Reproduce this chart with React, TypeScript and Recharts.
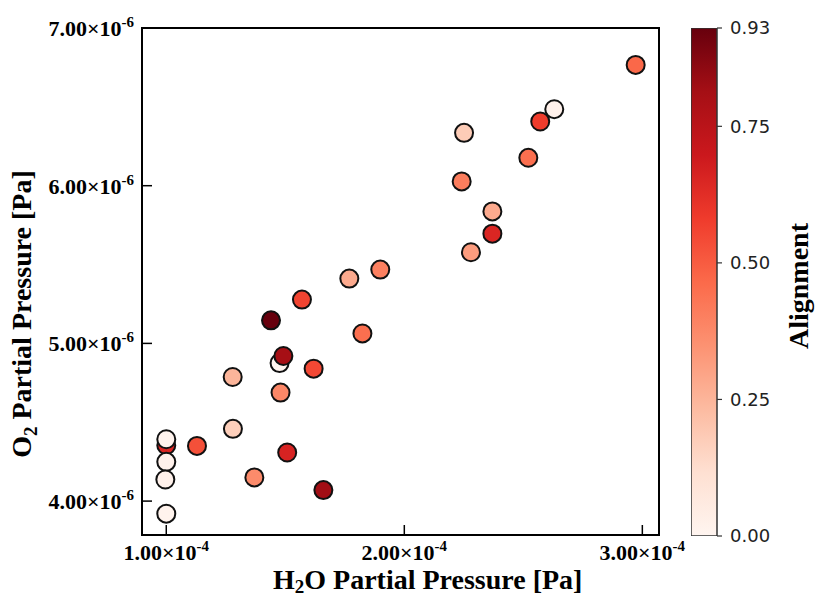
import React from "react";
import {
  ScatterChart,
  Scatter,
  XAxis,
  YAxis,
  ReferenceArea,
  Label,
  BarChart,
  Bar,
} from "recharts";

// H2O partial pressure [Pa]
const h2o = [
  1.0e-4, 1.0e-4, 1.0e-4, 0.996e-4, 1.0e-4, 1.129e-4, 1.28e-4, 1.279e-4, 1.37e-4,
  1.44e-4, 1.476e-4, 1.492e-4, 1.48e-4, 1.508e-4, 1.57e-4, 1.619e-4, 1.66e-4,
  1.769e-4, 1.824e-4, 1.899e-4, 2.241e-4, 2.251e-4, 2.28e-4, 2.37e-4, 2.37e-4,
  2.521e-4, 2.63e-4, 2.571e-4, 2.972e-4,
];
// O2 partial pressure [Pa]
const o2 = [
  4.354e-6, 4.392e-6, 4.249e-6, 4.137e-6, 3.92e-6, 4.35e-6, 4.458e-6, 4.787e-6,
  4.15e-6, 5.146e-6, 4.875e-6, 4.92e-6, 4.688e-6, 4.308e-6, 5.278e-6, 4.84e-6,
  4.07e-6, 5.411e-6, 5.063e-6, 5.468e-6, 6.027e-6, 6.335e-6, 5.578e-6, 5.837e-6,
  5.696e-6, 6.177e-6, 6.485e-6, 6.407e-6, 6.766e-6,
];
// Alignment (colour)
const alignment = [
  0.65, 0.01, 0.02, 0.02, 0.01, 0.53, 0.17, 0.25, 0.37, 0.93, 0.0, 0.81, 0.38,
  0.66, 0.56, 0.55, 0.82, 0.28, 0.45, 0.4, 0.41, 0.18, 0.32, 0.28, 0.65, 0.45,
  0.02, 0.58, 0.47,
];

const xTicks = [1e-4, 2e-4, 3e-4];
const yTicks = [4e-6, 5e-6, 6e-6, 7e-6];
const cbTicks = [0, 0.25, 0.5, 0.75, 0.93];
const xDomain = [0.898e-4, 3.07e-4];
const yDomain = [3.785e-6, 7.0e-6];
const cMax = 0.93;

const REDS = [
  "#fff5f0", "#fee0d2", "#fcbba1", "#fc9272", "#fb6a4a",
  "#ef3b2c", "#cb181d", "#a50f15", "#67000d",
];

function hexToRgb(h: string) {
  return [1, 3, 5].map((i) => parseInt(h.slice(i, i + 2), 16));
}
function redsColor(v: number) {
  const t = Math.max(0, Math.min(1, v / cMax)) * (REDS.length - 1);
  const i = Math.min(REDS.length - 2, Math.floor(t));
  const f = t - i;
  const a = hexToRgb(REDS[i]);
  const b = hexToRgb(REDS[i + 1]);
  const c = a.map((x, k) => Math.round(x + (b[k] - x) * f));
  return `rgb(${c[0]},${c[1]},${c[2]})`;
}

const data = h2o.map((x, i) => ({ x, y: o2[i], a: alignment[i] }));

const SERIF = "'Liberation Serif', 'Times New Roman', serif";

function sciParts(v: number) {
  const e = Math.floor(Math.log10(Math.abs(v)) + 1e-9);
  const m = v / Math.pow(10, e);
  return { m: m.toFixed(2), e: String(e) };
}

const XTick = (props: any) => {
  const { x, y, payload } = props;
  const { m, e } = sciParts(payload.value);
  return (
    <text x={x} y={y + 25} textAnchor="middle" fontFamily={SERIF} fontWeight="bold" fontSize={22} fill="#000">
      <tspan>{m}×10</tspan>
      <tspan dy={-9} fontSize={15}>{e}</tspan>
    </text>
  );
};

const YTick = (props: any) => {
  const { x, y, payload } = props;
  const { m, e } = sciParts(payload.value);
  return (
    <text x={x} y={y + 8} textAnchor="end" fontFamily={SERIF} fontWeight="bold" fontSize={22} fill="#000">
      <tspan>{m}×10</tspan>
      <tspan dy={-9} fontSize={15}>{e}</tspan>
    </text>
  );
};

const Dot = (props: any) => {
  const { cx, cy, payload } = props;
  return <circle cx={cx} cy={cy} r={9} fill={redsColor(payload.a)} stroke="#111" strokeWidth={2} />;
};

export default function App() {
  return (
    <div style={{ position: "absolute", left: 0, top: 0, width: 816, height: 598, background: "#fff" }}>
      <div style={{ position: "absolute", left: 0, top: 0 }}>
        <ScatterChart width={816} height={598} margin={{ top: 28, right: 157, bottom: 0, left: 0 }}>
          <XAxis
            type="number"
            dataKey="x"
            domain={xDomain}
            ticks={xTicks}
            allowDataOverflow
            height={63}
            tickSize={-10}
            tickMargin={10}
            tick={<XTick />}
            axisLine={{ stroke: "#000", strokeWidth: 2 }}
            tickLine={{ stroke: "#000", strokeWidth: 1.5 }}
          >
            <Label
              content={() => (
                <text x={273} y={589} textAnchor="start" fontFamily={SERIF} fontWeight="bold" fontSize={28} fill="#000">
                  <tspan>H</tspan>
                  <tspan dy={4} fontSize={19}>2</tspan>
                  <tspan dy={-4}>O Partial Pressure [Pa]</tspan>
                </text>
              )}
            />
          </XAxis>
          <YAxis
            type="number"
            dataKey="y"
            domain={yDomain}
            ticks={yTicks}
            allowDataOverflow
            width={142}
            tickSize={-10}
            tickMargin={18}
            tick={<YTick />}
            axisLine={{ stroke: "#000", strokeWidth: 2 }}
            tickLine={{ stroke: "#000", strokeWidth: 1.5 }}
          >
            <Label
              content={() => (
                <text
                  x={31}
                  y={314}
                  transform="rotate(-90 31 314)"
                  textAnchor="middle"
                  fontFamily={SERIF}
                  fontWeight="bold"
                  fontSize={28}
                  fill="#000"
                >
                  <tspan>O</tspan>
                  <tspan dy={6} fontSize={19}>2</tspan>
                  <tspan dy={-6}> Partial Pressure [Pa]</tspan>
                </text>
              )}
            />
          </YAxis>
          <ReferenceArea
            x1={xDomain[0]}
            x2={xDomain[1]}
            y1={yDomain[0]}
            y2={yDomain[1]}
            fill="none"
            fillOpacity={0}
            stroke="#000"
            strokeWidth={2}
            ifOverflow="extendDomain"
          />
          <Scatter data={data} isAnimationActive={false} shape={<Dot />} />
        </ScatterChart>
      </div>
      <div style={{ position: "absolute", left: 691, top: 0 }}>
        <BarChart
          width={125}
          height={598}
          data={[{ name: "cb", v: cMax }]}
          margin={{ top: 28, right: 39, bottom: 62, left: 0 }}
          barCategoryGap={0}
        >
          <defs>
            <linearGradient id="redsGrad" x1="0" y1="1" x2="0" y2="0">
              {REDS.map((c, i) => (
                <stop key={i} offset={`${(i / (REDS.length - 1)) * 100}%`} stopColor={c} />
              ))}
            </linearGradient>
          </defs>
          <XAxis dataKey="name" hide />
          <YAxis
            orientation="right"
            type="number"
            domain={[0, cMax]}
            ticks={cbTicks}
            allowDataOverflow
            width={60}
            axisLine={false}
            tickSize={5}
            tickMargin={8}
            tickLine={{ stroke: "#333", strokeWidth: 1.2 }}
            tickFormatter={(v: number) => v.toFixed(2)}
            tick={{ fontFamily: "'DejaVu Sans', sans-serif", fontSize: 18, fill: "#222" }}
          >
            <Label
              content={() => (
                <text
                  x={117}
                  y={286}
                  transform="rotate(-90 117 286)"
                  textAnchor="middle"
                  fontFamily={SERIF}
                  fontWeight="bold"
                  fontSize={28}
                  fill="#000"
                >
                  Alignment
                </text>
              )}
            />
          </YAxis>
          <Bar dataKey="v" fill="url(#redsGrad)" stroke="#333" strokeWidth={1.5} isAnimationActive={false} />
        </BarChart>
      </div>
    </div>
  );
}
